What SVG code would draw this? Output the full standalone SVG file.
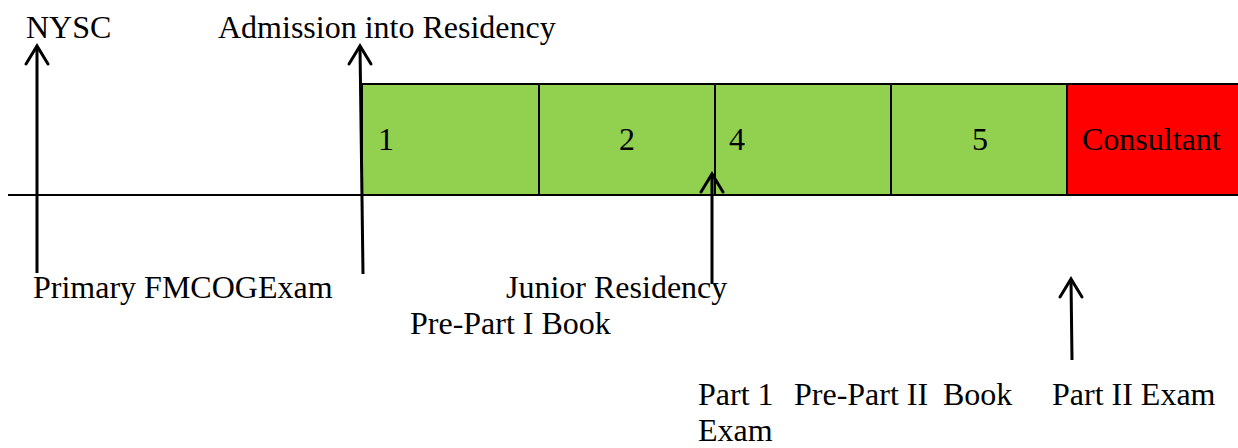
<svg xmlns="http://www.w3.org/2000/svg" width="1238" height="448" viewBox="0 0 1238 448">
<style>
text { font-family: "Liberation Serif", "Times New Roman", serif; font-size: 32px; fill: #000; }
.box { stroke: #000; stroke-width: 2; }
.g { fill: #92D050; }
.r { fill: #FF0000; }
.arr { stroke: #000; stroke-width: 3; fill: none; stroke-linecap: butt; }
.head { stroke: #000; stroke-width: 3; fill: none; stroke-linecap: round; stroke-linejoin: miter; }
</style>
<rect width="1238" height="448" fill="#fff"/>
<g id="timeline">
  <line x1="8" y1="195" x2="1238" y2="195" stroke="#000" stroke-width="2"/>
</g>
<g id="stage1"><rect class="box g" x="362" y="84" width="177" height="111"/><text x="378" y="150">1</text></g>
<g id="stage2"><rect class="box g" x="539" y="84" width="176" height="111"/><text x="619" y="150">2</text></g>
<g id="stage4"><rect class="box g" x="715" y="84" width="176" height="111"/><text x="729" y="150">4</text></g>
<g id="stage5"><rect class="box g" x="891" y="84" width="176" height="111"/><text x="972" y="150">5</text></g>
<g id="consultant"><rect class="box r" x="1067" y="84" width="175" height="111"/><text x="1082" y="150">Consultant</text></g>
<g id="connectors">
  <line class="arr" x1="37" y1="273" x2="37" y2="47"/>
  <polyline class="head" points="26,64 37,46 48,64"/>
  <line class="arr" x1="363" y1="274" x2="360" y2="47"/>
  <polyline class="head" points="349,64 360,46 371,64"/>
  <line class="arr" x1="712" y1="284" x2="712" y2="175"/>
  <polyline class="head" points="701,192 712,174 723,192"/>
  <line class="arr" x1="1072" y1="360" x2="1071" y2="280"/>
  <polyline class="head" points="1060,297 1071,279 1082,297"/>
</g>
<g id="labels">
  <text x="26" y="38">NYSC</text>
  <text x="218" y="38">Admission into Residency</text>
  <text x="33" y="298">Primary FMCOGExam</text>
  <text x="506" y="298">Junior Residency</text>
  <text x="410" y="334">Pre-Part I Book</text>
  <text x="698" y="405">Part 1</text>
  <text x="698" y="441">Exam</text>
  <text x="794" y="405">Pre-Part II</text>
  <text x="943" y="405">Book</text>
  <text x="1052" y="405">Part II Exam</text>
</g>
</svg>
